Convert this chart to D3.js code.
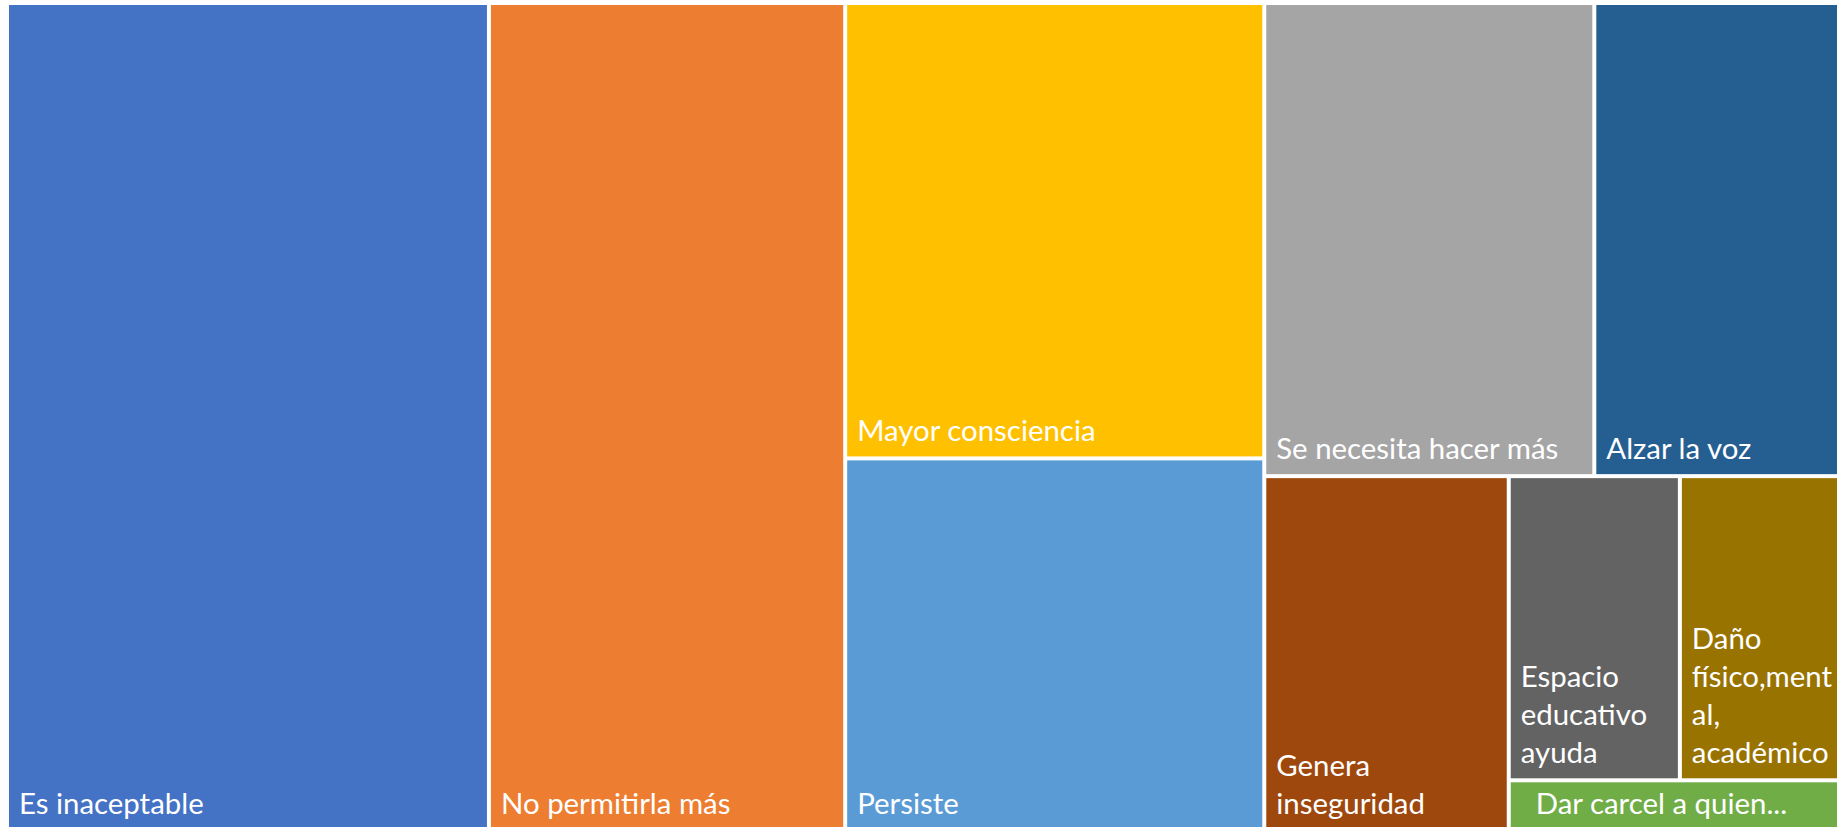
<!DOCTYPE html>
<html>
<head>
<meta charset="utf-8">
<script src="https://cdn.jsdelivr.net/npm/d3@7"></script>
<style>
  body { margin: 0; background: #fff; overflow: hidden; }
  svg { display: block; }
</style>
</head>
<body>
<svg id="chart" width="1837" height="827"></svg>
<script>
// datos del treemap (respuestas agrupadas)
const categories = [
  "Es inaceptable",
  "No permitirla más",
  "Mayor consciencia",
  "Persiste",
  "Se necesita hacer más",
  "Alzar la voz",
  "Genera inseguridad",
  "Espacio educativo ayuda",
  "Daño físico,mental, académico",
  "  Dar carcel a quien..."
];
const counts = [23, 17, 11, 9, 9, 7, 5, 3, 3, 1];
const colors = [
  "#4472C4", "#ED7D31", "#FFC000", "#5B9BD5", "#A5A5A5",
  "#255E91", "#9E480E", "#636363", "#997300", "#70AD47"
];

const width = 1837, height = 827;
// el área del gráfico original es un poco más grande que la captura
const area = { x0: 7, y0: 3, x1: 1851, y1: 831 };
const gap = 2;          // mitad del borde blanco entre celdas
const padX = 12;        // margen del texto
const padBottom = 17.5; // distancia de la última línea base al borde
const lineH = 38;
const fontSize = 29.4;
const fontFamily = "Lato, 'Open Sans', sans-serif";

// squarify que prefiere celdas algo más altas que anchas (como Excel)
const targetAspect = 1.4;
function worstRatio(nodes, s, value, dx, dy, horiz) {
  let worst = 0;
  nodes.forEach(n => {
    let a;
    if (horiz) {
      const h = dy * s / value, w = dx * n.value / s;
      a = h / w;
    } else {
      const w = dx * s / value, h = dy * n.value / s;
      a = h / w;
    }
    worst = Math.max(worst, a / targetAspect, targetAspect / a);
  });
  return worst;
}

function tallSquarify(parent, x0, y0, x1, y1) {
  const nodes = parent.children;
  const n = nodes.length;
  let value = parent.value, i0 = 0;
  while (i0 < n) {
    const dx = x1 - x0, dy = y1 - y0;
    const horiz = dx < dy;
    let best = Infinity, sum = 0, i1 = i0;
    while (i1 < n) {
      const s = sum + nodes[i1].value;
      const r = worstRatio(nodes.slice(i0, i1 + 1), s, value, dx, dy, horiz);
      if (r > best) break;
      best = r; sum = s; i1++;
    }
    const row = { value: sum, children: nodes.slice(i0, i1) };
    if (horiz) {
      const h = dy * sum / value;
      d3.treemapDice(row, x0, y0, x1, y0 + h);
      y0 += h;
    } else {
      const w = dx * sum / value;
      d3.treemapSlice(row, x0, y0, x0 + w, y1);
      x0 += w;
    }
    value -= sum;
    i0 = i1;
  }
}

const data = {
  name: "root",
  children: categories.map((c, i) => ({ name: c, value: counts[i], color: colors[i] }))
};

const root = d3.hierarchy(data)
  .sum(d => d.value || 0)
  .sort((a, b) => b.value - a.value);

d3.treemap()
  .size([area.x1 - area.x0, area.y1 - area.y0])
  .tile(tallSquarify)(root);

const svg = d3.select("#chart");

const g = svg.append("g")
  .attr("transform", `translate(${area.x0},${area.y0})`);

const cell = g.selectAll("g.cell")
  .data(root.leaves())
  .join("g")
  .attr("class", "cell");

cell.append("rect")
  .attr("x", d => d.x0 + gap)
  .attr("y", d => d.y0 + gap)
  .attr("width", d => Math.max(0, d.x1 - d.x0 - 2 * gap))
  .attr("height", d => Math.max(0, d.y1 - d.y0 - 2 * gap))
  .attr("fill", d => d.data.color);

// medir texto para partir las etiquetas como Excel
const measurer = svg.append("text")
  .attr("font-family", fontFamily)
  .attr("font-size", fontSize)
  .style("white-space", "pre");
function textW(s) {
  measurer.text(s);
  return measurer.node().getComputedTextLength();
}

function wrap(label, maxW) {
  const words = label.split(/(?<=\S) +/);
  const lines = [];
  let line = "";
  words.forEach(w => {
    const test = line ? line + " " + w : w;
    if (textW(test) <= maxW) { line = test; return; }
    if (line) lines.push(line);
    // palabra demasiado larga: se corta por caracteres
    let part = "";
    for (const ch of w) {
      if (textW(part + ch) > maxW && part) { lines.push(part); part = ch; }
      else part += ch;
    }
    line = part;
  });
  if (line) lines.push(line);
  return lines;
}

cell.each(function(d) {
  const lines = wrap(d.data.name, d.x1 - d.x0 - 2 * padX);
  const lastY = d.y1 - padBottom;
  d3.select(this).append("text")
    .attr("font-family", fontFamily)
    .attr("font-size", fontSize)
    .attr("fill", "#fff")
    .style("white-space", "pre")
    .selectAll("tspan")
    .data(lines)
    .join("tspan")
    .attr("x", d.x0 + padX)
    .attr("y", (l, i) => lastY - (lines.length - 1 - i) * lineH)
    .text(l => l);
});

measurer.remove();
</script>
</body>
</html>
